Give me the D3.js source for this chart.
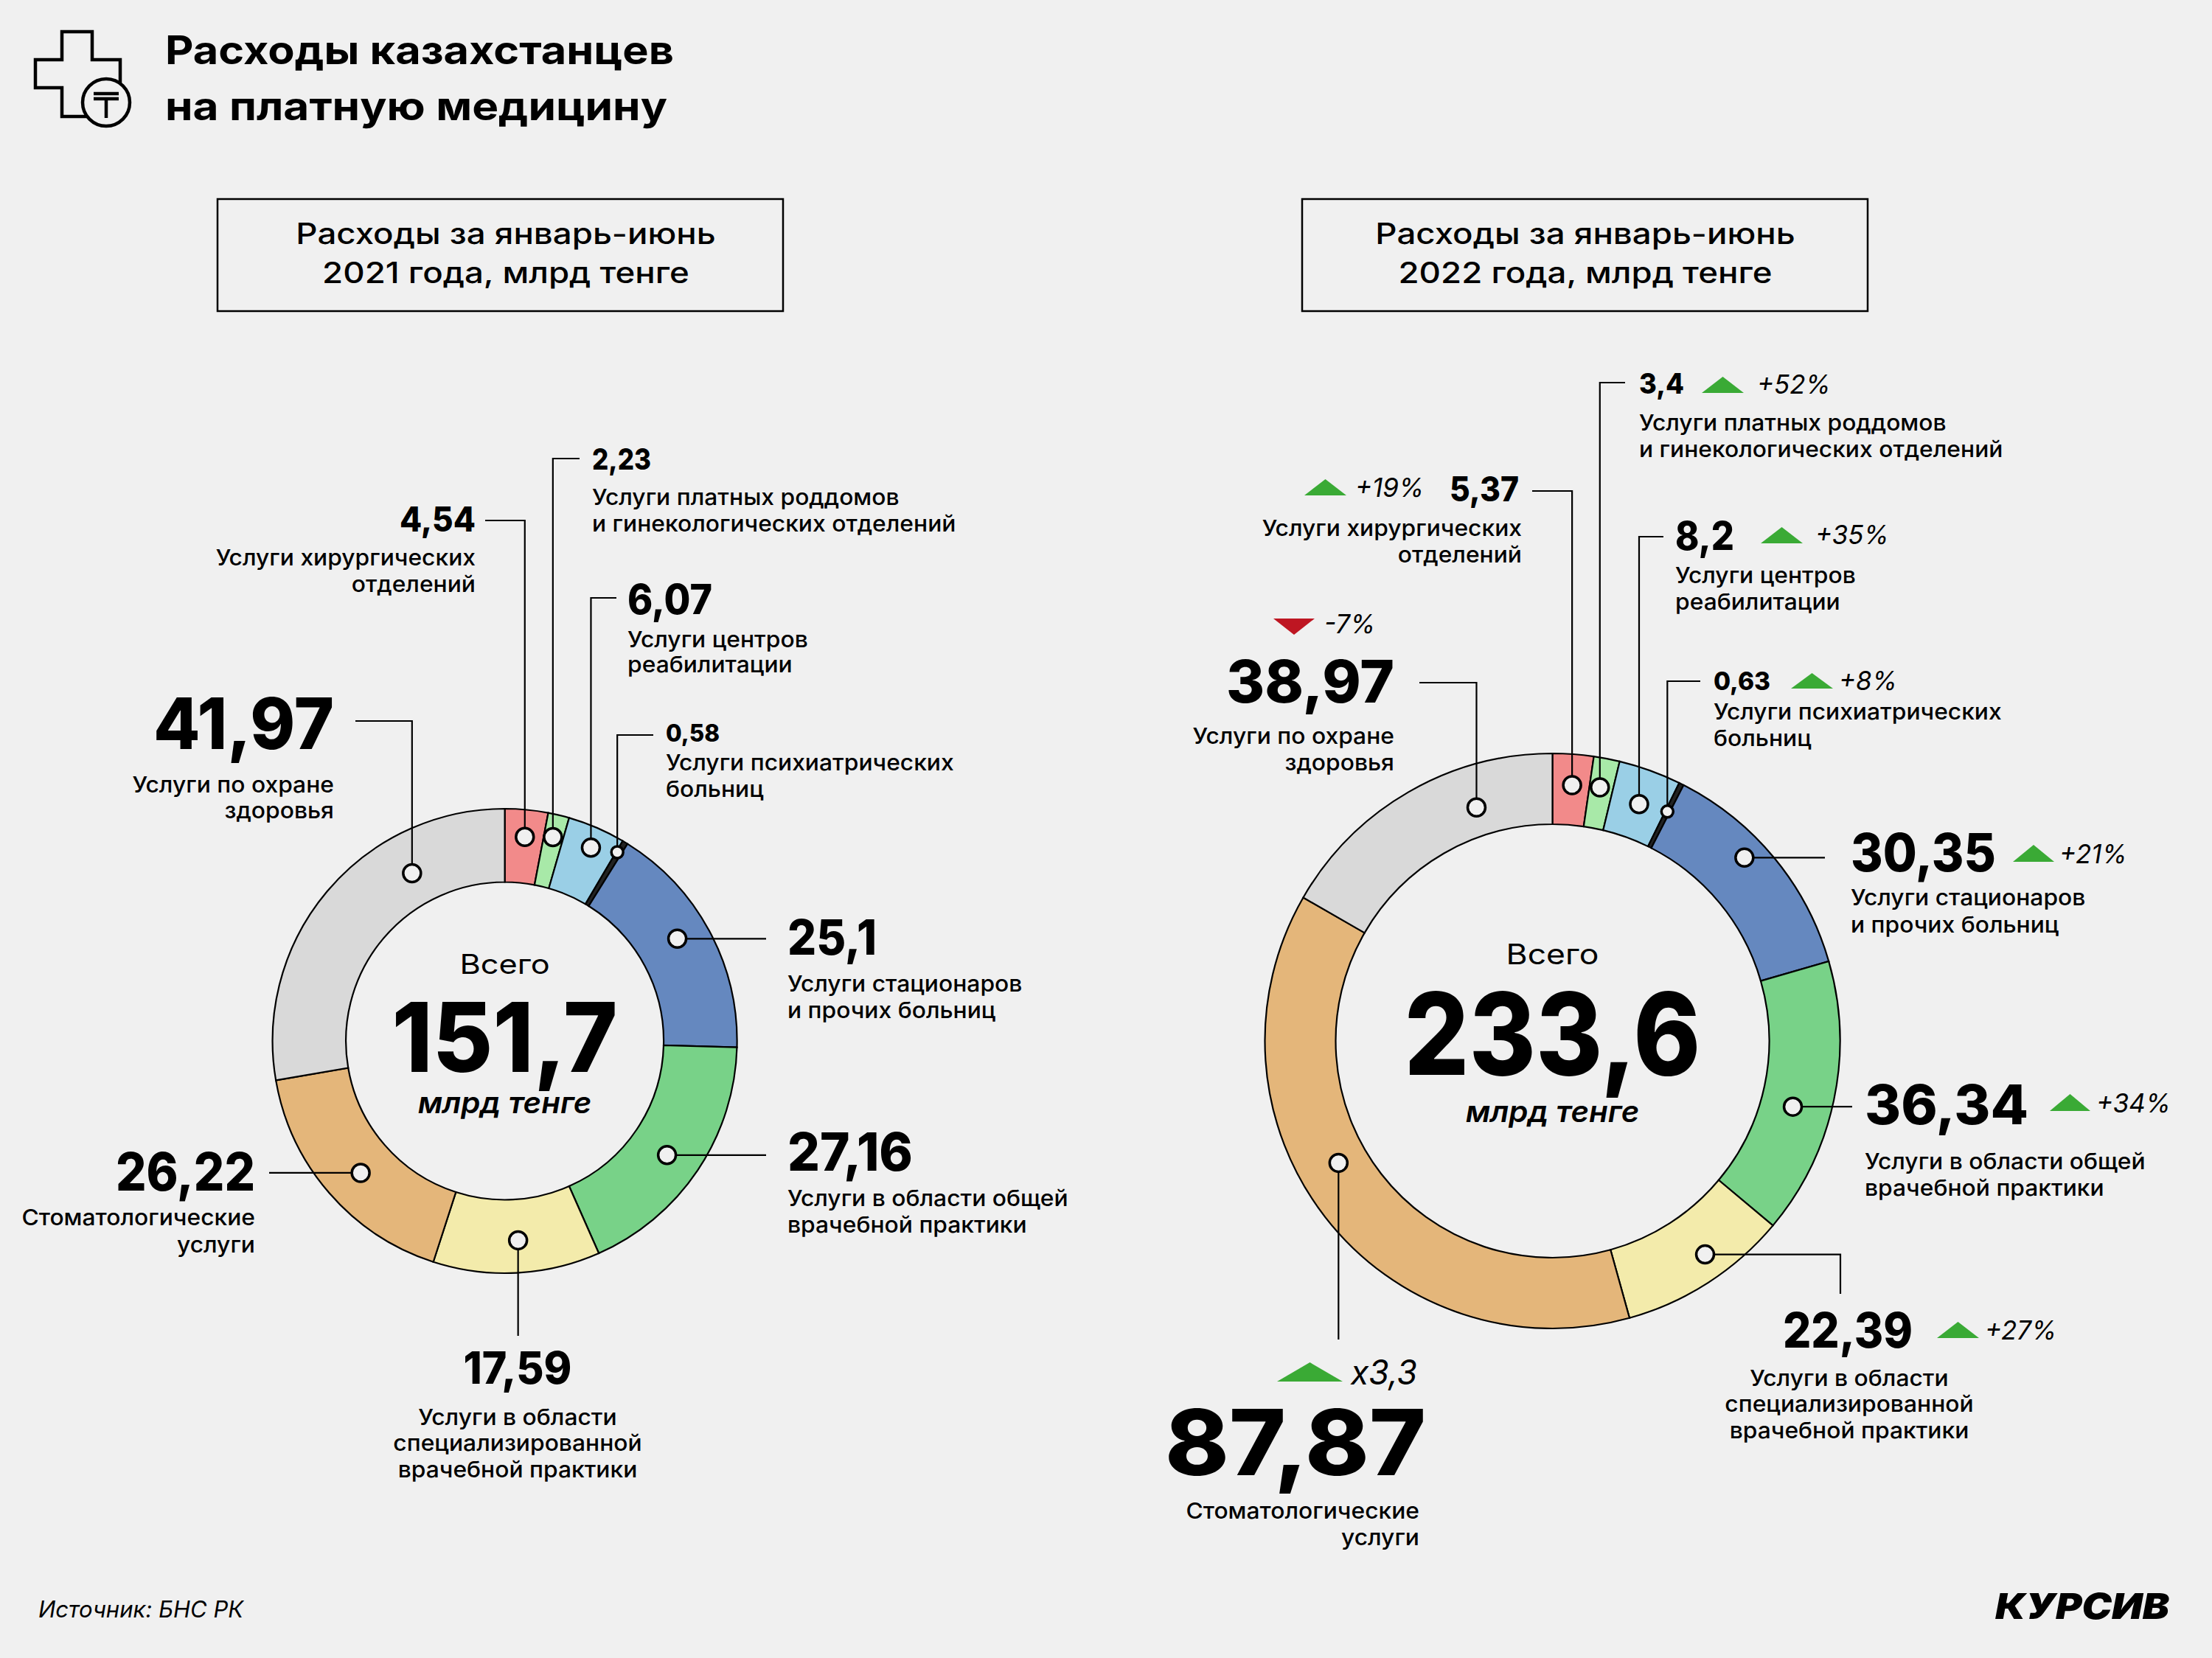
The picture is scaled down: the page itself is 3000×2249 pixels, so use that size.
<!DOCTYPE html>
<html>
<head>
<meta charset="utf-8">
<script src="https://cdn.jsdelivr.net/npm/d3@7"></script>
<style>
html,body{margin:0;padding:0;background:#f0f0f0;}
svg{display:block;}
text{font-family:Inter,"Noto Sans",sans-serif;fill:#000;}
</style>
</head>
<body>
<script>
var categories = [
  "Услуги хирургических отделений",
  "Услуги платных роддомов и гинекологических отделений",
  "Услуги центров реабилитации",
  "Услуги психиатрических больниц",
  "Услуги стационаров и прочих больниц",
  "Услуги в области общей врачебной практики",
  "Услуги в области специализированной врачебной практики",
  "Стоматологические услуги",
  "Услуги по охране здоровья"
];
var values2021 = [4.54, 2.23, 6.07, 0.58, 25.1, 27.16, 17.59, 26.22, 41.97];
var values2022 = [5.37, 3.4, 8.2, 0.63, 30.35, 36.34, 22.39, 87.87, 38.97];
var changes2022 = ["+19%", "+52%", "+35%", "+8%", "+21%", "+34%", "+27%", "х3,3", "-7%"];
var totals = ["151,7", "233,6"];
var sliceColors = ["#f28a8a", "#a8e9a8", "#9acfe6", "#222222", "#6588bf", "#78d288", "#f3ebab", "#e4b67a", "#d9d9d9"];

// desc lines per category, in the same order as categories
var descLines = [
  ["Услуги хирургических", "отделений"],
  ["Услуги платных роддомов", "и гинекологических отделений"],
  ["Услуги центров", "реабилитации"],
  ["Услуги психиатрических", "больниц"],
  ["Услуги стационаров", "и прочих больниц"],
  ["Услуги в области общей", "врачебной практики"],
  ["Услуги в области", "специализированной", "врачебной практики"],
  ["Стоматологические", "услуги"],
  ["Услуги по охране", "здоровья"]
];

// where things sit around each ring: dot = [share of slice, radius], path = leader steps, w = width of the number
var layout2021 = [
  {dot:[.52,278], path:[["v",706],["h",658]], anchor:"end", x:645, y:721, size:46, w:103, desc:[767,803]},
  {dot:[.47,284], path:[["v",622],["h",786]], anchor:"start", x:803, y:637, size:40, w:80, desc:[685,721]},
  {dot:[.55,287], path:[["v",811],["h",836]], anchor:"start", x:851, y:833, size:56, w:115, desc:[878,912]},
  {dot:[.2,298], small:true, path:[["v",997],["h",886]], anchor:"start", x:903, y:1006, size:32, w:73, desc:[1045,1081]},
  {dot:[.46,272], path:[["h",1039]], anchor:"start", x:1068, y:1295, size:66, w:121, desc:[1345,1381]},
  {dot:[.52,269], path:[["h",1039]], anchor:"start", x:1068, y:1588, size:72, w:170, desc:[1636,1672]},
  {dot:[.48,271], path:[["v",1812]], anchor:"middle", x:702, y:1877, size:60, w:147, desc:[1933,1968,2004]},
  {dot:[.475,265], path:[["h",365]], anchor:"end", x:346, y:1615, size:72, w:189, desc:[1662,1699]},
  {dot:[.71,260], path:[["v",978],["h",482]], anchor:"end", x:453, y:1016, size:96, w:245, desc:[1075,1110]}
];
var layout2022 = [
  {dot:[.53,348], path:[["v",666],["h",2078]], anchor:"end", x:2060, y:680, size:46, w:94, desc:[727,763], descX:2064,
    tri:[1769,1826,650,672], chg:[1838,674,36]},
  {dot:[.44,350], path:[["v",519],["h",2204]], anchor:"start", x:2223, y:534, size:38, w:61, desc:[584,620],
    tri:[2308,2365,511,533], chg:[2383,534,36]},
  {dot:[.52,342], path:[["v",728],["h",2256]], anchor:"start", x:2272, y:746, size:54, w:80, desc:[791,827],
    tri:[2388,2445,715,737], chg:[2462,738,36]},
  {dot:[.45,348], small:true, path:[["v",924],["h",2306]], anchor:"start", x:2324, y:936, size:34, w:77, desc:[976,1012],
    tri:[2429,2486,913,934], chg:[2494,936,36]},
  {dot:[.41,360], path:[["h",2475]], anchor:"start", x:2510, y:1182, size:72, w:197, desc:[1228,1265],
    tri:[2730,2786,1146,1169], chg:[2793,1171,36]},
  {dot:[.56,338], path:[["h",2512]], anchor:"start", x:2529, y:1525, size:74, w:222, desc:[1586,1622],
    tri:[2780,2835,1484,1507], chg:[2843,1509,36]},
  {dot:[.42,356], path:[["h",2496],["v",1755]], anchor:"middle", x:2506, y:1828, size:66, w:176, desc:[1880,1915,1951], descX:2508,
    tri:[2627,2684,1793,1815], chg:[2692,1817,36]},
  {dot:[.56,334], path:[["v",1817]], anchor:"end", x:1934, y:2001, size:124, w:354, desc:[2060,2096], descX:1925,
    tri:[1732,1821,1848,1874], chg:[1832,1878,46]},
  {dot:[.7,333], path:[["v",926],["h",1925]], anchor:"end", x:1891, y:953, size:80, w:228, desc:[1009,1045],
    tri:[1727,1783,861,839], chg:[1796,859,36], down:true}
];

var svg = d3.select("body").append("svg").attr("width",3000).attr("height",2249);
svg.append("rect").attr("width",3000).attr("height",2249).attr("fill","#f0f0f0");

// montserrat is wider than inter, so every text gets stretched: k is a factor, w a fixed width
function txt(x,y,s,size,weight,anchor,italic,k,w){
  var t = svg.append("text")
    .attr("x",x).attr("y",y)
    .attr("font-size",size)
    .attr("font-weight",weight)
    .attr("text-anchor",anchor||"start")
    .attr("font-style",italic?"italic":"normal")
    .text(s);
  var len = w || t.node().getComputedTextLength()*(k||1.06);
  t.attr("textLength",len).attr("lengthAdjust","spacingAndGlyphs");
  return t;
}
function num(v){ return String(v).replace(".",","); }

// header
txt(224,87,"Расходы казахстанцев",54,700,"start",false,0,690);
txt(224,163,"на платную медицину",54,700,"start",false,0,681);

var icon = svg.append("g").attr("fill","none").attr("stroke","#000").attr("stroke-width",4.5);
icon.append("path").attr("d","M84 43H125V81H163V119H125V158H84V119H48V81H84Z");
icon.append("circle").attr("cx",144).attr("cy",139).attr("r",32).attr("fill","#f0f0f0");
icon.append("path").attr("d","M127 127H161M127 134H161M144 134V160");

// boxes
[[295,686,"2021"],[1766,2150,"2022"]].forEach(function(b){
  svg.append("rect").attr("x",b[0]).attr("y",270).attr("width",767).attr("height",152)
    .attr("fill","none").attr("stroke","#000").attr("stroke-width",2.5);
  txt(b[1],331,"Расходы за январь-июнь",39,500,"middle",false,1.17);
  txt(b[1],384,b[2]+" года, млрд тенге",39,500,"middle",false,1.17);
});

function ring(cfg){
  var pie = d3.pie().sort(null);
  var slices = pie(cfg.values);
  var arc = d3.arc().innerRadius(cfg.r0).outerRadius(cfg.r1);
  var g = svg.append("g").attr("transform","translate("+cfg.cx+","+cfg.cy+")");

  g.selectAll(".arc").data(slices).enter().append("path")
    .attr("class","arc")
    .attr("d",arc)
    .attr("fill",function(d,i){ return sliceColors[i]; })
    .attr("stroke","#000")
    .attr("stroke-width",2.2);

  // centre text
  txt(cfg.cx,cfg.yAll,"Всего",cfg.allSize,400,"middle",false,1.17);
  txt(cfg.cx,cfg.yTotal,cfg.total,cfg.totalSize,800,"middle",false,0,cfg.totalW);
  txt(cfg.cx,cfg.yUnit,"млрд тенге",40,600,"middle",true,1.05);

  var pts = slices.map(function(d,i){
    var l = cfg.layout[i],
        a = d.startAngle + (d.endAngle-d.startAngle)*l.dot[0];
    return [cfg.cx + Math.sin(a)*l.dot[1], cfg.cy - Math.cos(a)*l.dot[1]];
  });

  cfg.layout.forEach(function(l,i){
    var p = pts[i], d = "M"+p[0]+" "+p[1], cur = [p[0],p[1]];
    l.path.forEach(function(s){
      if(s[0]=="v") cur[1]=s[1]; else cur[0]=s[1];
      d += "L"+cur[0]+" "+cur[1];
    });
    svg.append("path").attr("d",d).attr("fill","none").attr("stroke","#000").attr("stroke-width",2.2);
    svg.append("circle").attr("cx",p[0]).attr("cy",p[1]).attr("r",l.small?8:12)
      .attr("fill","#f0f0f0").attr("stroke","#000").attr("stroke-width",3.5);

    // labels
    txt(l.x,l.y,num(cfg.values[i]),l.size,800,l.anchor,false,0,l.w);
    var dx = l.descX || l.x;
    descLines[i].forEach(function(s,j){
      txt(dx,l.desc[j],s,30,500,l.anchor);
    });
    if(l.tri){
      var t = l.tri;
      svg.append("path")
        .attr("d", d3.line()([[t[0],t[3]],[t[1],t[3]],[(t[0]+t[1])/2,t[2]]])+"Z")
        .attr("fill", cfg.changes[i].charAt(0)=="-" ? "#be1622" : "#3aaa35");
      txt(l.chg[0],l.chg[1],cfg.changes[i],l.chg[2],400,"start",true,0.97);
    }
  });
}

ring({values:values2021, layout:layout2021, cx:684.6, cy:1412, r0:215.5, r1:315, total:totals[0],
  yAll:1321, allSize:37, yTotal:1454, totalSize:130, totalW:306, yUnit:1510});
ring({values:values2022, layout:layout2022, cx:2105.5, cy:1412, r0:294, r1:390, total:totals[1],
  yAll:1308, allSize:38, yTotal:1458, totalSize:154, totalW:402, yUnit:1522, changes:changes2022});

// footer
txt(52,2194,"Источник: БНС РК",31,400,"start",true,1);
svg.append("text").attr("x",2706).attr("y",2196)
  .attr("font-size",48).attr("font-weight",900).attr("font-style","italic")
  .attr("textLength",236).attr("lengthAdjust","spacingAndGlyphs")
  .text("КУРСИВ");
</script>
</body>
</html>
